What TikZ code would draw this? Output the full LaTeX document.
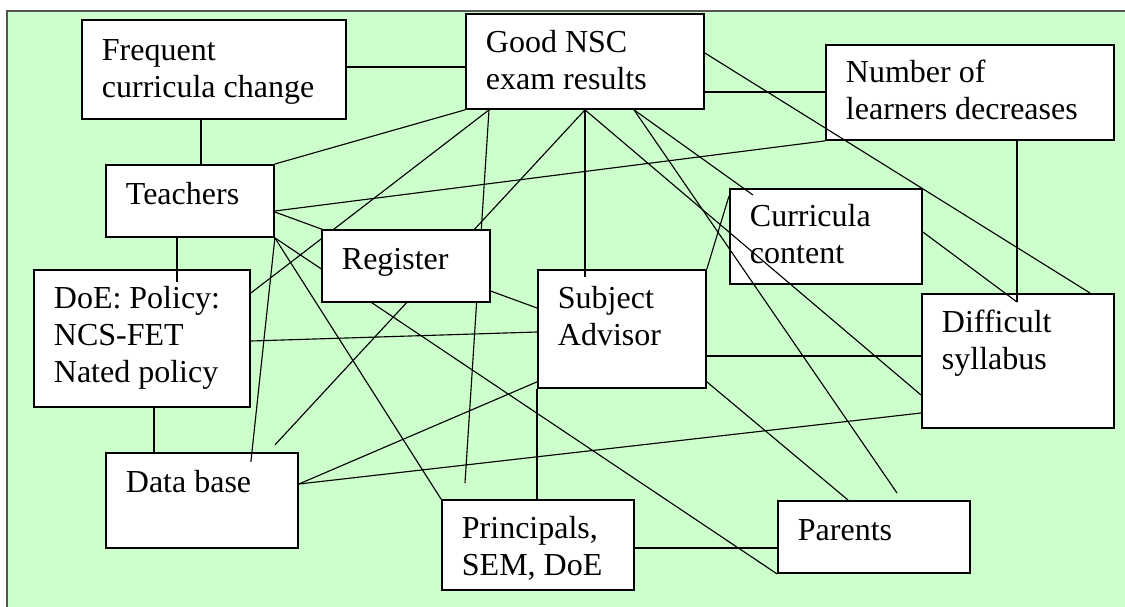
\documentclass[tikz,border=0pt]{standalone}
\usepackage{fontspec}
\setmainfont{Liberation Serif}
\usetikzlibrary{calc}

% one drawing unit = one pixel of the 1125 x 607 canvas
\newdimen\pxu
\pxu=0.75pt

% box content: width, height, first-baseline drop, text
\newcommand\cellbox[4]{%
  \vbox to #2\pxu{\hsize=#1\pxu\relax
    \parindent=0pt \leftskip=20\pxu \rightskip=0pt plus 1fil
    \baselineskip=37\pxu \lineskiplimit=-\maxdimen
    \fontsize{24pt}{27.75pt}\selectfont
    \noindent\vrule height #3\pxu width 0pt depth 0pt\relax #4\par\vss}}

\definecolor{paper}{HTML}{CCFFCC}
\definecolor{frame}{HTML}{555555}

\tikzset{
  x=0.75pt, y=-0.75pt,
  box/.style={draw=black, fill=white, line width=1.4pt, inner sep=0pt, anchor=north west},
  link/.style={draw=black, line width=0.85pt},
}

\begin{document}
\begin{tikzpicture}
\useasboundingbox (0,0) rectangle (1125,607);
\clip (0,0) rectangle (1125,607);

% green panel with its frame
\fill[paper] (7,11) rectangle (1135,617);
\draw[frame, line width=1.5pt] (7,617) -- (7,11) -- (1135,11);

% boxes
\node[box] (freq)  at (81,19)   {\cellbox{264}{99}{41}{Frequent\\curricula change}};
\node[box] (good)  at (465,13)  {\cellbox{238}{95}{39}{Good NSC\\exam results}};
\node[box] (num)   at (825,44)  {\cellbox{288}{95}{38}{Number of\\learners decreases}};
\node[box] (teach) at (105,164) {\cellbox{168}{72}{40}{Teachers}};
\node[box] (doe)   at (33,269)  {\cellbox{216}{137}{39}{DoE: Policy:\\NCS-FET\\Nated policy}};
\node[box] (data)  at (105,452) {\cellbox{192}{95}{40}{Data base}};
\node[box] (subj)  at (537,269) {\cellbox{168}{118}{39}{Subject\\Advisor}};
\node[box] (curr)  at (729,188) {\cellbox{192}{95}{38}{Curricula\\content}};
\node[box] (diff)  at (921,293) {\cellbox{192}{134}{39}{Difficult\\syllabus}};
\node[box] (prin)  at (441,499) {\cellbox{192}{90}{39}{Principals,\\SEM, DoE}};
\node[box] (par)   at (777,500) {\cellbox{192}{72}{40}{Parents}};

% loose line ends
\coordinate (endA) at ($(prin.north west)+(24,-16)$);
\coordinate (endB) at ($(data.north east)+(-24,-7)$);
\coordinate (endC) at ($(par.north west)+(120,-7)$);
\coordinate (endD) at ($(data.north east)+(-48,10)$);
\coordinate (endE) at ($(doe.north west)+(144,13)$);
\coordinate (endF) at ($(diff.north west)+(96,9)$);
\coordinate (endG) at ($(subj.north west)+(48,8)$);

% connectors
\draw[link] ($(freq.north east)+(0,48)$) -- ($(good.north west)+(0,54)$);
\draw[link] ($(freq.south west)+(120,0)$) -- ($(teach.north west)+(96,0)$);
\draw[link] (teach.north east) -- (good.south west);
\draw[link] ($(good.south west)+(24,0)$) -- ($(doe.north east)+(0,24)$);
\draw[link] ($(good.south west)+(24,0)$) -- (endA);
\draw[link] ($(good.south west)+(120,0)$) -- (endB);
\draw[link] ($(good.south west)+(120,0)$) -- (endG);
\draw[link] ($(good.south west)+(120,0)$) -- ($(diff.north west)+(0,102)$);
\draw[link] ($(good.south west)+(169,0)$) -- ($(curr.north west)+(24,7)$);
\draw[link] ($(good.south west)+(169,0)$) -- (endC);
\draw[link] ($(good.north east)+(0,40)$) -- ($(diff.north west)+(169,0)$);
\draw[link] ($(good.north east)+(0,79)$) -- ($(num.north west)+(0,48)$);
\draw[link] (num.south west) -- ($(teach.north east)+(0,47)$);
\draw[link] ($(num.south west)+(192,0)$) -- (endF);
\draw[link] ($(curr.north east)+(0,44)$) -- (endF);
\draw[link] (subj.north east) -- ($(curr.north west)+(0,8)$);
\draw[link] ($(teach.north east)+(0,48)$) -- ($(subj.north west)+(0,39)$);
\draw[link] (teach.south east) -- (par.south west);
\draw[link] (teach.south east) -- (prin.north west);
\draw[link] (teach.south east) -- (endD);
\draw[link] ($(teach.south west)+(72,0)$) -- (endE);
\draw[link] ($(doe.north east)+(0,72)$) -- ($(subj.north west)+(0,63)$);
\draw[link] ($(doe.south west)+(121,0)$) -- ($(data.north west)+(49,0)$);
\draw[link] ($(subj.south west)+(0,-7)$) -- ($(data.north east)+(0,32)$);
\draw[link] ($(diff.north west)+(0,120)$) -- ($(data.north east)+(0,32)$);
\draw[link] ($(subj.north east)+(0,87)$) -- ($(diff.north west)+(0,63)$);
\draw[link] ($(subj.south east)+(0,-7)$) -- ($(par.north west)+(71,0)$);
\draw[link] (subj.south west) -- ($(prin.north west)+(96,0)$);
\draw[link] ($(prin.north east)+(0,49)$) -- ($(par.north west)+(0,48)$);

% the register box sits over the lines that pass behind it
\node[box] (reg) at (321,229) {\cellbox{168}{72}{40}{Register}};
\end{tikzpicture}
\end{document}
